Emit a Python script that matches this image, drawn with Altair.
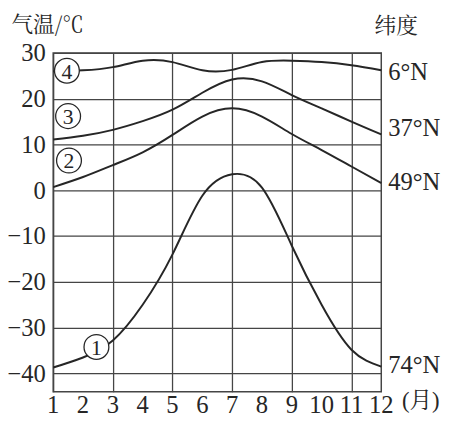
import altair as alt
import pandas as pd

months = list(range(1, 13))
t_6N = [26.0, 26.2, 26.9, 28.3, 28.0, 26.2, 26.3, 28.0, 28.3, 28.0, 27.3, 26.2]
t_37N = [11.1, 11.9, 13.2, 15.1, 17.6, 21.3, 24.2, 23.8, 20.8, 17.9, 15.0, 12.2]
t_49N = [0.7, 2.9, 5.5, 8.3, 12.1, 16.1, 17.9, 16.1, 12.3, 8.8, 5.2, 1.6]
t_74N = [-38.7, -36.5, -32.8, -25.0, -14.0, -1.2, 3.5, 0.6, -12.1, -25.0, -34.8, -38.5]

series_names = ["6°N", "37°N", "49°N", "74°N"]
label_temp = [25.9, 13.5, 1.8, -38.1]
circle_ids = ["4", "3", "2", "1"]
circle_month = [1.46, 1.5, 1.53, 2.45]
circle_temp = [26.1, 16.2, 6.5, -34.2]
month_labels = [str(m) for m in months]

rows = []
for name, vals in zip(series_names, [t_6N, t_37N, t_49N, t_74N]):
    for m, v in zip(months, vals):
        rows.append({"series": name, "month": m, "temp": v})
df = pd.DataFrame(rows)

lab_df = pd.DataFrame({"series": series_names, "month": [12] * 4, "temp": label_temp})
circ_df = pd.DataFrame({"id": circle_ids, "month": circle_month, "temp": circle_temp})
unit_df = pd.DataFrame({"t": ["(月)"], "month": [12], "temp": [-46.0]})
lat_df = pd.DataFrame({"t": ["纬度"], "month": [12.5], "temp": [35.9]})
xlab_df = pd.DataFrame({"month": months, "t": month_labels, "temp": [-44] * 12})

GRID = "#454545"
INK = "#262626"
SERIF = "'Liberation Serif', 'Times New Roman', Tinos, 'DejaVu Serif', serif"
CJK = "'Noto Serif CJK SC', 'Noto Sans CJK SC', sans-serif"

x_scale = alt.Scale(domain=[1, 12], nice=False, zero=False)
y_scale = alt.Scale(domain=[-44, 30], nice=False, zero=False)

x_axis = alt.Axis(
    values=months, grid=True, ticks=False, domain=False, title=None, labels=False,
    gridColor=GRID, gridWidth=1.3, gridOpacity=1,
)
y_axis = alt.Axis(
    values=list(range(-40, 31, 5)), grid=True, ticks=False, domain=False,
    title="气温/℃", titleAngle=0, titleAlign="left", titleBaseline="middle",
    titleX=-43, titleY=-29, titleFont=CJK, titleFontSize=22,
    titleFontWeight="normal", titleColor=INK,
    labelExpr="datum.value % 10 == 0 ? datum.label : ''",
    labelOverlap=False,
    labelFont=SERIF, labelFontSize=25, labelColor=INK, labelPadding=8,
    gridColor=GRID, gridWidth=1.3, gridOpacity=1,
)

base = alt.Chart(df)
lines = base.mark_line(interpolate="natural", color=INK, strokeWidth=2).encode(
    x=alt.X("month:Q", scale=x_scale, axis=x_axis),
    y=alt.Y("temp:Q", scale=y_scale, axis=y_axis),
    detail="series:N",
)

circles = alt.Chart(circ_df).mark_point(
    shape="circle", filled=True, fill="white", stroke=INK, strokeWidth=1.3,
    size=640, opacity=1,
).encode(x=alt.X("month:Q", scale=x_scale), y=alt.Y("temp:Q", scale=y_scale))

circle_txt = alt.Chart(circ_df).mark_text(
    font=SERIF, fontSize=22, color=INK, align="center", baseline="middle", dy=1
).encode(x=alt.X("month:Q", scale=x_scale), y=alt.Y("temp:Q", scale=y_scale), text="id:N")

x_labels = alt.Chart(xlab_df).mark_text(
    font=SERIF, fontSize=25, color=INK, align="center", baseline="middle", dy=14
).encode(x=alt.X("month:Q", scale=x_scale), y=alt.Y("temp:Q", scale=y_scale), text="t:N")

right_labels = alt.Chart(lab_df).mark_text(
    font=SERIF, fontSize=25, color=INK, align="left", baseline="middle", dx=7
).encode(x=alt.X("month:Q", scale=x_scale), y=alt.Y("temp:Q", scale=y_scale), text="series:N")

unit_label = alt.Chart(unit_df).mark_text(
    font="'Liberation Serif', 'Noto Serif CJK SC', serif", fontSize=23, color=INK,
    align="left", baseline="middle", dx=21
).encode(x=alt.X("month:Q", scale=x_scale), y=alt.Y("temp:Q", scale=y_scale), text="t:N")

lat_label = alt.Chart(lat_df).mark_text(
    font=CJK, fontSize=22, color=INK, align="center", baseline="middle"
).encode(x=alt.X("month:Q", scale=x_scale), y=alt.Y("temp:Q", scale=y_scale), text="t:N")

chart = alt.layer(lines, circles, circle_txt, x_labels, right_labels, unit_label, lat_label).properties(
    width=334, height=345,
    padding={"left": 46, "top": 42, "right": 72, "bottom": 28},
    autosize=alt.AutoSizeParams(type="none"),
    background="white",
).configure_view(stroke=GRID, strokeWidth=1.5)

chart.save("out.html", embed_options={"renderer": "svg", "actions": False})
